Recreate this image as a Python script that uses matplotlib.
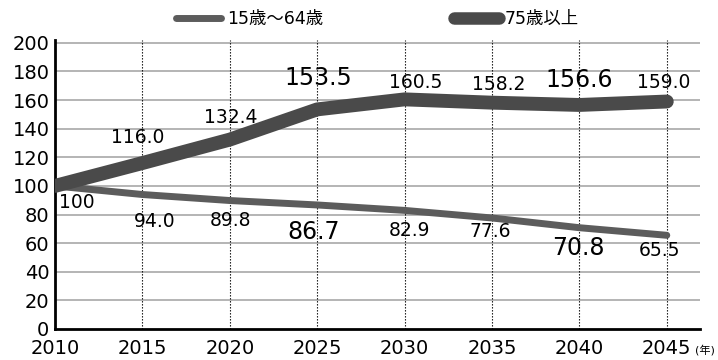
#!/usr/bin/env python3
# coding: utf-8
"""
Population index (2010 = 100): working age vs. 75 and over
"""

import matplotlib
matplotlib.use("Agg")
import matplotlib.pyplot as plt
from matplotlib.lines import Line2D

plt.rcParams["font.family"] = ["DejaVu Sans", "Noto Sans CJK JP"]

# Data
years = [2010, 2015, 2020, 2025, 2030, 2035, 2040, 2045]
working_age = [100, 94.0, 89.8, 86.7, 82.9, 77.6, 70.8, 65.5]
elderly = [100, 116.0, 132.4, 153.5, 160.5, 158.2, 156.6, 159.0]
working_labels = ["100", "94.0", "89.8", "86.7", "82.9", "77.6", "70.8", "65.5"]
elderly_labels = ["", "116.0", "132.4", "153.5", "160.5", "158.2", "156.6", "159.0"]
big_years = [2025, 2040]  # emphasised labels
series_names = ["15歳～64歳", "75歳以上"]

# label offsets in pixels (x, y)
working_offsets = [(22, -17), (12, -27), (1, -20), (-4, -27),
                   (5, -20), (-2, -14), (-1, -20), (-7, -15)]
elderly_offsets = [(0, 0), (-5, 26), (1, 22), (1, 31),
                   (11, 17), (7, 18), (0, 25), (-3, 19)]

c_work = "#5c5c5c"
c_old = "#4a4a4a"

fig = plt.figure(figsize=(7.18, 3.6), dpi=100)
ax = fig.add_axes([55 / 718, 31 / 360, 645 / 718, 289 / 360])

ax.plot(years, working_age, color=c_work, lw=5, solid_capstyle="round",
        solid_joinstyle="round", zorder=3)
ax.plot(years, elderly, color=c_old, lw=10, solid_capstyle="round",
        solid_joinstyle="round", zorder=4)

ax.set_xlim(2010, 2046.9)
ax.set_ylim(0, 202)
ax.set_yticks(range(0, 201, 20))
ax.set_xticks(years)
ax.tick_params(length=0, labelsize=14, colors="black")
ax.tick_params(axis="y", pad=4)
ax.tick_params(axis="x", pad=7)

# grid
for v in range(20, 201, 20):
    ax.axhline(v, color="#a8a8a8", lw=1.2, zorder=1)
for yr in years[1:]:
    ax.axvline(yr, color="black", lw=0.8, ls=(0, (1.2, 1.5)), zorder=2)

for side in ["top", "right"]:
    ax.spines[side].set_visible(False)
for side in ["left", "bottom"]:
    ax.spines[side].set_linewidth(2)
    ax.spines[side].set_color("black")

# value labels
for yr, txt, off in zip(years, working_labels, working_offsets):
    v = working_age[years.index(yr)]
    big = yr in big_years
    ax.annotate(txt, (yr, v), xytext=off, textcoords="offset pixels",
                ha="center", va="center", fontsize=17 if big else 13.5,
                fontweight="medium", zorder=5)
for yr, txt, off in zip(years, elderly_labels, elderly_offsets):
    if not txt:
        continue
    v = elderly[years.index(yr)]
    big = yr in big_years
    ax.annotate(txt, (yr, v), xytext=off, textcoords="offset pixels",
                ha="center", va="center", fontsize=17 if big else 13.5,
                fontweight="medium", zorder=5)

fig.text(705 / 718, 10 / 360, "(年)", fontsize=8, ha="center", va="center")

handles = [
    Line2D([], [], color=c_work, lw=5, solid_capstyle="round"),
    Line2D([], [], color=c_old, lw=9, solid_capstyle="round"),
]
fig.legend(handles, series_names, loc="center", bbox_to_anchor=(0.526, 0.947),
           ncol=2, frameon=False, fontsize=12.5, handlelength=2.6,
           handletextpad=0.35, columnspacing=7.5)

fig.savefig("out.png", dpi=100)
